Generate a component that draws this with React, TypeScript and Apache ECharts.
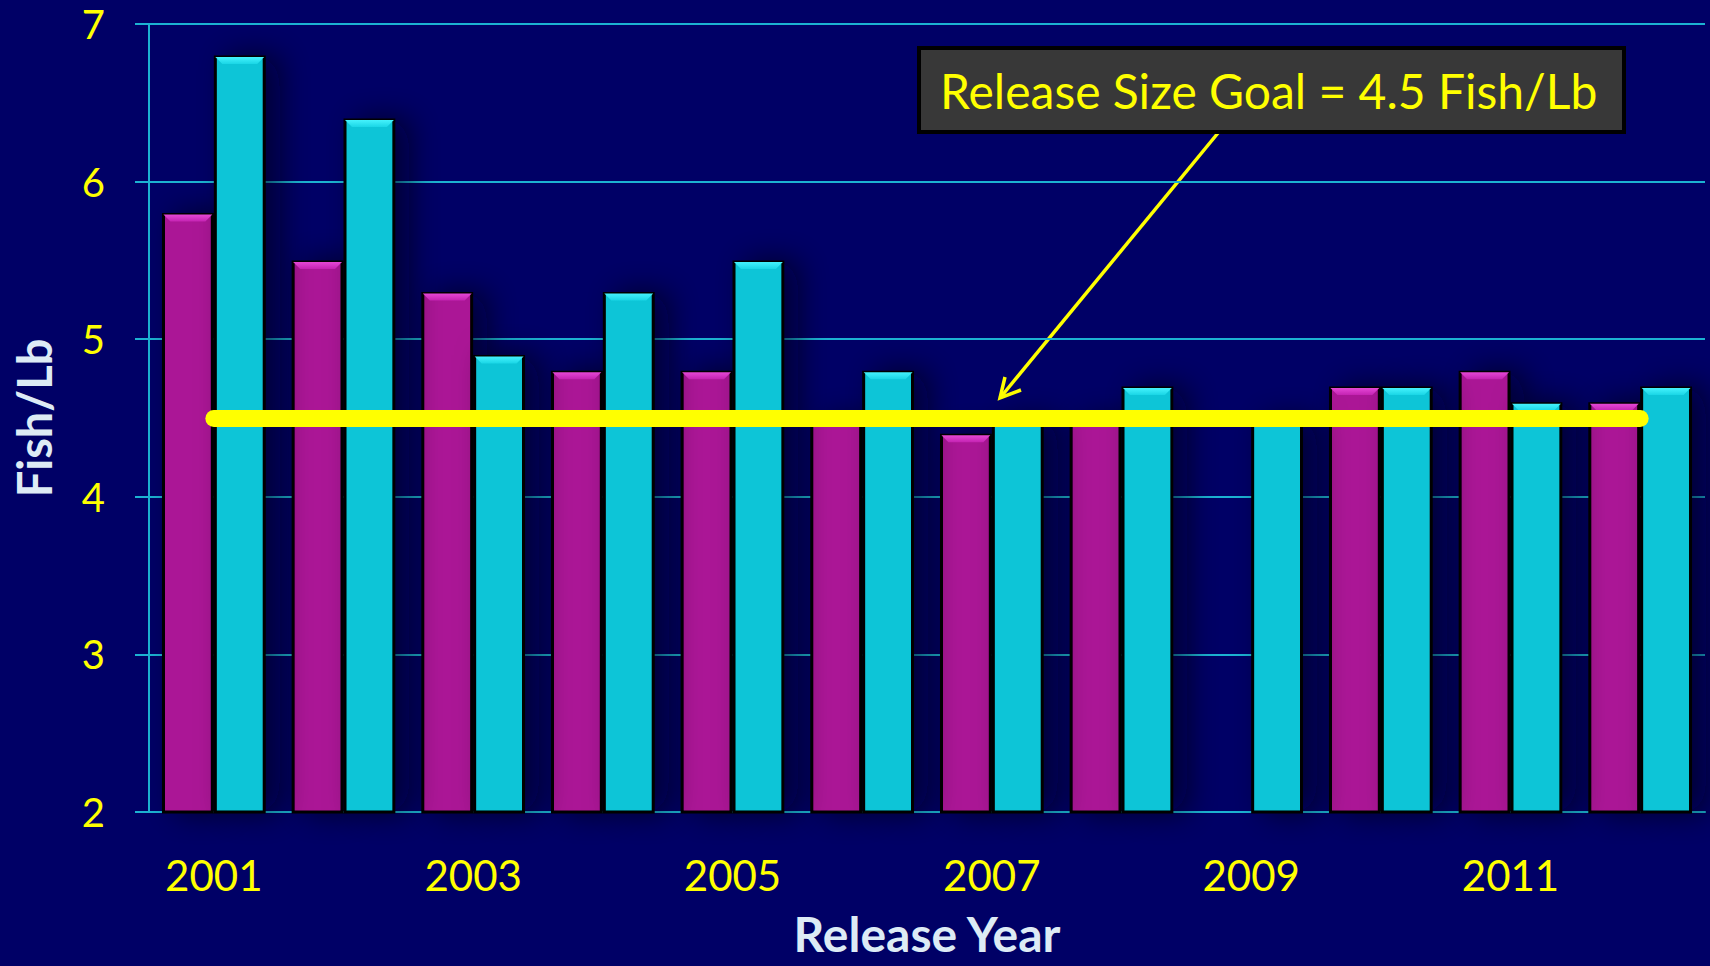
import React, { useEffect, useRef } from "react";
import * as echarts from "echarts";

const years = ["2001", "2002", "2003", "2004", "2005", "2006", "2007", "2008", "2009", "2010", "2011", "2012"];
const magentaValues = [5.8, 5.5, 5.3, 4.8, 4.8, 4.5, 4.4, 4.5, null, 4.7, 4.8, 4.6];
const cyanValues = [6.8, 6.4, 4.9, 5.3, 5.5, 4.8, 4.5, 4.7, 4.5, 4.7, 4.6, 4.7];
const GOAL = 4.5;
const Y_MIN = 2;
const Y_MAX = 7;
const Y_INTERVAL = 1;
const annotationText = "Release Size Goal = 4.5 Fish/Lb";

const BG = "#000066";
const GRID_COLOR = "#1CB2D2";
const YELLOW = "#FFFF00";
const NAME_COLOR = "#DDEBF5";
const MAGENTA = "#AB1296";
const CYAN = "#0DC5D7";
const FONT = "Lato";

function bevelSeries(values: (number | null)[], side: number, light: string, mid: string) {
  return {
    type: "custom",
    z: 3,
    silent: true,
    data: values.map((v, i) => [i, v]).filter((d) => d[1] != null),
    encode: { x: 0, y: 1 },
    renderItem: (params: any, api: any) => {
      const idx = api.value(0);
      const v = api.value(1);
      const pt = api.coord([idx, v]);
      const bw = api.size([1, 0])[0];
      const w = bw * 0.4;
      const x0 = side < 0 ? pt[0] - w : pt[0];
      const x1 = x0 + w;
      const t = pt[1] + 1.5;
      const b = 7;
      const l = x0 + 1.5;
      const r = x1 - 1.5;
      return {
        type: "polygon",
        shape: { points: [[l, t], [r, t], [r - b, t + b], [l + b, t + b]] },
        style: {
          fill: new echarts.graphic.LinearGradient(0, 0, 0, 1, [
            { offset: 0, color: light },
            { offset: 1, color: mid },
          ]),
        },
      };
    },
  };
}

export default function App() {
  const ref = useRef<HTMLDivElement>(null);
  useEffect(() => {
    document.body.style.margin = "0";
    document.body.style.background = BG;
    const chart = echarts.init(ref.current!, null, { renderer: "svg" });
    const barShadow = {
      shadowColor: "rgba(0,0,20,0.6)",
      shadowBlur: 30,
      shadowOffsetX: 14,
      shadowOffsetY: 0,
    };
    const tipX = 1000, tipY = 398, startX = 1218, startY = 133;
    chart.setOption({
      animation: false,
      backgroundColor: BG,
      grid: { left: 149, right: 5, top: 24, bottom: 154, containLabel: false, outerBoundsMode: "none" },
      xAxis: {
        type: "category",
        data: years,
        name: "Release Year",
        nameLocation: "middle",
        nameGap: 97,
        nameTextStyle: { color: NAME_COLOR, fontSize: 48, lineHeight: 48, fontWeight: "bold", fontFamily: FONT },
        axisLine: { show: true, lineStyle: { color: GRID_COLOR, width: 2 } },
        axisTick: { show: false },
        axisLabel: { interval: 1, color: YELLOW, fontSize: 42, fontFamily: FONT, margin: 42 },
        splitLine: { show: false },
      },
      yAxis: {
        type: "value",
        min: Y_MIN,
        max: Y_MAX,
        interval: Y_INTERVAL,
        name: "Fish/Lb",
        nameLocation: "middle",
        nameGap: 92,
        nameRotate: 90,
        nameTextStyle: { color: NAME_COLOR, fontSize: 47, fontWeight: "bold", fontFamily: FONT },
        axisLine: { show: true, lineStyle: { color: GRID_COLOR, width: 2 } },
        axisTick: { show: true, length: 14, inside: false, lineStyle: { color: GRID_COLOR, width: 2 } },
        axisLabel: { color: YELLOW, fontSize: 40, fontFamily: FONT, margin: 44 },
        splitLine: { show: true, lineStyle: { color: GRID_COLOR, width: 2 } },
      },
      series: [
        {
          type: "bar",
          name: "Series A",
          data: magentaValues,
          barWidth: "40%",
          barGap: "0%",
          itemStyle: { color: MAGENTA, borderColor: "#000000", borderWidth: 3, ...barShadow },
        },
        {
          type: "bar",
          name: "Series B",
          data: cyanValues,
          barWidth: "40%",
          barGap: "0%",
          itemStyle: { color: CYAN, borderColor: "#000000", borderWidth: 3, ...barShadow },
        },
        bevelSeries(magentaValues, -1, "#E548D6", "#C423B2"),
        bevelSeries(cyanValues, 1, "#45F2FC", "#1AD6E6"),
        {
          type: "line",
          name: "Goal",
          data: [],
          z: 10,
          markLine: {
            z: 10,
            silent: true,
            symbol: ["none", "none"],
            label: { show: false },
            lineStyle: { color: YELLOW, width: 17, type: "solid", cap: "round", opacity: 1 },
            data: [[{ coord: [years[0], GOAL] }, { coord: [years[years.length - 1], GOAL] }]],
          },
        },
      ],
      graphic: [
        {
          type: "group",
          z: 100,
          children: [
            {
              type: "line",
              shape: { x1: startX, y1: startY, x2: tipX, y2: tipY },
              style: { stroke: YELLOW, lineWidth: 3.5 },
            },
            {
              type: "polyline",
              shape: {
                points: [
                  [tipX + 5, tipY - 21],
                  [tipX, tipY],
                  [tipX + 21, tipY - 8],
                ],
              },
              style: { stroke: YELLOW, lineWidth: 3.5, fill: null },
            },
            {
              type: "rect",
              shape: { x: 919, y: 48, width: 705, height: 84 },
              style: { fill: "#383838", stroke: "#000000", lineWidth: 4 },
            },
            {
              type: "text",
              x: 940,
              y: 90,
              style: {
                text: annotationText,
                fill: YELLOW,
                fontSize: 48,
                fontFamily: FONT,
                verticalAlign: "middle",
                align: "left",
              },
            },
          ],
        },
      ],
    });
    return () => chart.dispose();
  }, []);
  return (
    <div
      ref={ref}
      style={{ position: "fixed", left: 0, top: 0, width: 1710, height: 966, background: BG }}
    />
  );
}
